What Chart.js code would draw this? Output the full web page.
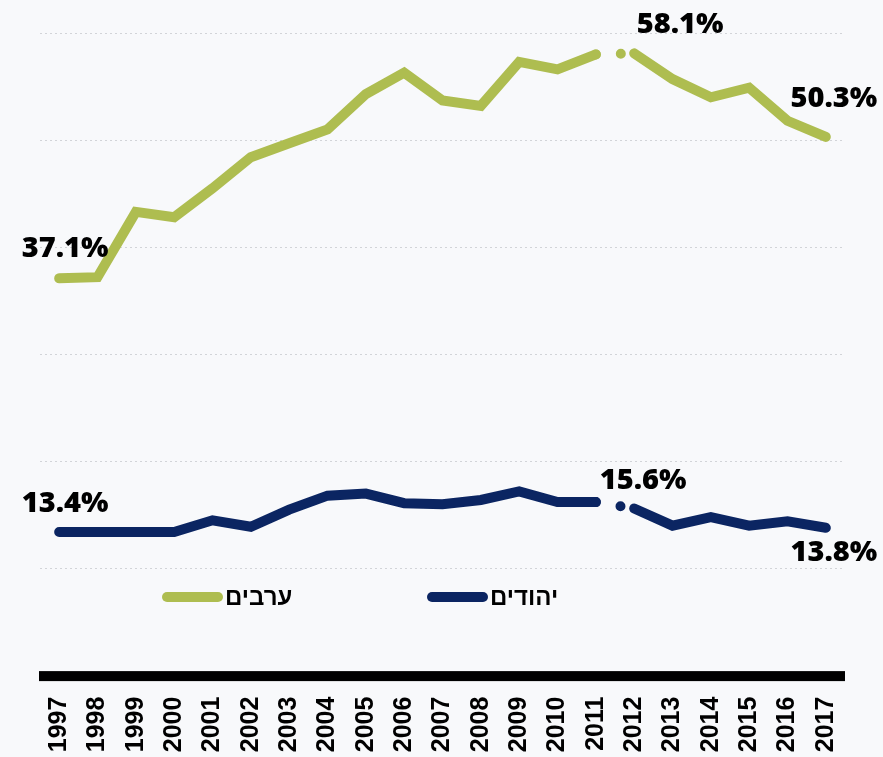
<!DOCTYPE html>
<html>
<head>
<meta charset="utf-8">
<script src="https://cdn.jsdelivr.net/npm/chart.js@4.4.0/dist/chart.umd.min.js"></script>
<style>
  html, body { margin: 0; padding: 0; background: #f8f9fb; }
  #wrap { width: 883px; height: 757px; }
</style>
</head>
<body>
<div id="wrap"><canvas id="chart" width="883" height="757"></canvas></div>
<script>
// years on the x axis
const years = ['1997', '1998', '1999', '2000', '2001', '2002', '2003', '2004', '2005', '2006', '2007',
               '2008', '2009', '2010', '2011', '2012', '2013', '2014', '2015', '2016', '2017'];
// percentages
const arabs = [37.1, 37.2, 43.3, 42.8, 45.5, 48.4, 49.7, 51.0, 54.3, 56.3, 53.7,
               53.2, 57.3, 56.6, 58.0, 58.1, 55.7, 54.0, 54.9, 51.8, 50.3];
const jews = [13.4, 13.4, 13.4, 13.4, 14.5, 13.9, 15.5, 16.8, 17.0, 16.1, 16.0,
              16.4, 17.2, 16.2, 16.2, 15.6, 14.0, 14.8, 14.0, 14.4, 13.8];
const seriesNames = ['ערבים', 'יהודים'];
const yTicks = [0, 10, 20, 30, 40, 50, 60];

const GREEN = '#aebd50';
const NAVY = '#0b2562';
const BG = '#f8f9fb';
const BREAK_AT = 14; // segment 2011 -> 2012 is drawn broken

// which points get a value label, and where
const valueLabels = [
  { ds: 0, i: 0, dx: 6, dy: -21 },
  { ds: 0, i: 15, dx: 46, dy: -20 },
  { ds: 0, i: 20, dx: 8, dy: -30 },
  { ds: 1, i: 0, dx: 6, dy: -20 },
  { ds: 1, i: 15, dx: 9, dy: -20 },
  { ds: 1, i: 20, dx: 8, dy: 33 }
];

const bgPlugin = {
  id: 'bg',
  beforeDraw(chart) {
    const ctx = chart.ctx;
    ctx.save();
    ctx.fillStyle = BG;
    ctx.fillRect(0, 0, chart.width, chart.height);
    ctx.restore();
  },
  // thick black zero line, kept inside the plot width
  beforeDatasetsDraw(chart) {
    const ctx = chart.ctx;
    const a = chart.chartArea;
    const y0 = chart.scales.y.getPixelForValue(0);
    ctx.save();
    ctx.fillStyle = '#000';
    ctx.fillRect(a.left - 1, y0 - 4.5, a.right - a.left + 1, 10);
    ctx.restore();
  }
};

const labelPlugin = {
  id: 'valueLabels',
  afterDatasetsDraw(chart) {
    const ctx = chart.ctx;
    ctx.save();
    ctx.font = '800 29px "Open Sans"';
    ctx.fillStyle = '#000';
    ctx.textAlign = 'center';
    ctx.textBaseline = 'alphabetic';
    valueLabels.forEach(l => {
      const pt = chart.getDatasetMeta(l.ds).data[l.i];
      const v = chart.data.datasets[l.ds].data[l.i];
      ctx.fillText(v.toFixed(1) + '%', pt.x + l.dx, pt.y + l.dy);
    });
    ctx.restore();
  }
};

// legend drawn inside the plot, under the lines
const legendPlugin = {
  id: 'myLegend',
  afterDraw(chart) {
    const ctx = chart.ctx;
    const spots = [{ x: 167, y: 597 }, { x: 432, y: 597 }];
    ctx.save();
    chart.data.datasets.forEach((ds, k) => {
      const s = spots[k];
      ctx.strokeStyle = ds.borderColor;
      ctx.lineWidth = 10;
      ctx.lineCap = 'round';
      ctx.beginPath();
      ctx.moveTo(s.x, s.y);
      ctx.lineTo(s.x + 51, s.y);
      ctx.stroke();
      ctx.fillStyle = '#000';
      ctx.font = 'bold 24px "Liberation Sans"';
      ctx.textAlign = 'left';
      ctx.textBaseline = 'middle';
      ctx.fillText(ds.label, s.x + 58, s.y + 1);
    });
    ctx.restore();
  }
};

function brokenDash(ctx) {
  return ctx.p0DataIndex === BREAK_AT ? [0, 25] : undefined;
}

new Chart(document.getElementById('chart'), {
  type: 'line',
  data: {
    labels: years,
    datasets: [
      {
        label: seriesNames[0],
        data: arabs,
        borderColor: GREEN,
        backgroundColor: GREEN,
        borderWidth: 10,
        borderCapStyle: 'round',
        pointRadius: 0,
        tension: 0,
        clip: false,
        segment: { borderDash: brokenDash }
      },
      {
        label: seriesNames[1],
        data: jews,
        borderColor: NAVY,
        backgroundColor: NAVY,
        borderWidth: 10,
        borderCapStyle: 'round',
        pointRadius: 0,
        tension: 0,
        clip: false,
        segment: { borderDash: brokenDash }
      }
    ]
  },
  options: {
    responsive: false,
    animation: false,
    layout: { padding: { top: 33, left: 40, right: 38, bottom: 0 } },
    plugins: {
      legend: { display: false },
      tooltip: { enabled: false }
    },
    scales: {
      x: {
        offset: true,
        grid: { display: false, drawTicks: false },
        border: { display: false },
        ticks: {
          minRotation: 90,
          maxRotation: 90,
          autoSkip: false,
          padding: 21,
          color: '#000',
          font: { family: '"Liberation Sans", Arial, sans-serif', weight: 'bold', size: 25 }
        },
        afterFit(s) { s.height = 81.4; }
      },
      y: {
        min: yTicks[0],
        max: yTicks[yTicks.length - 1],
        afterBuildTicks(s) { s.ticks = yTicks.map(v => ({ value: v })); },
        afterFit(s) { s.width = 0; },
        border: { display: false, dash: [2, 3] },
        grid: { color: '#d2d4d8', lineWidth: 1, drawTicks: false },
        ticks: { display: false }
      }
    }
  },
  plugins: [bgPlugin, labelPlugin, legendPlugin]
});
</script>
</body>
</html>
